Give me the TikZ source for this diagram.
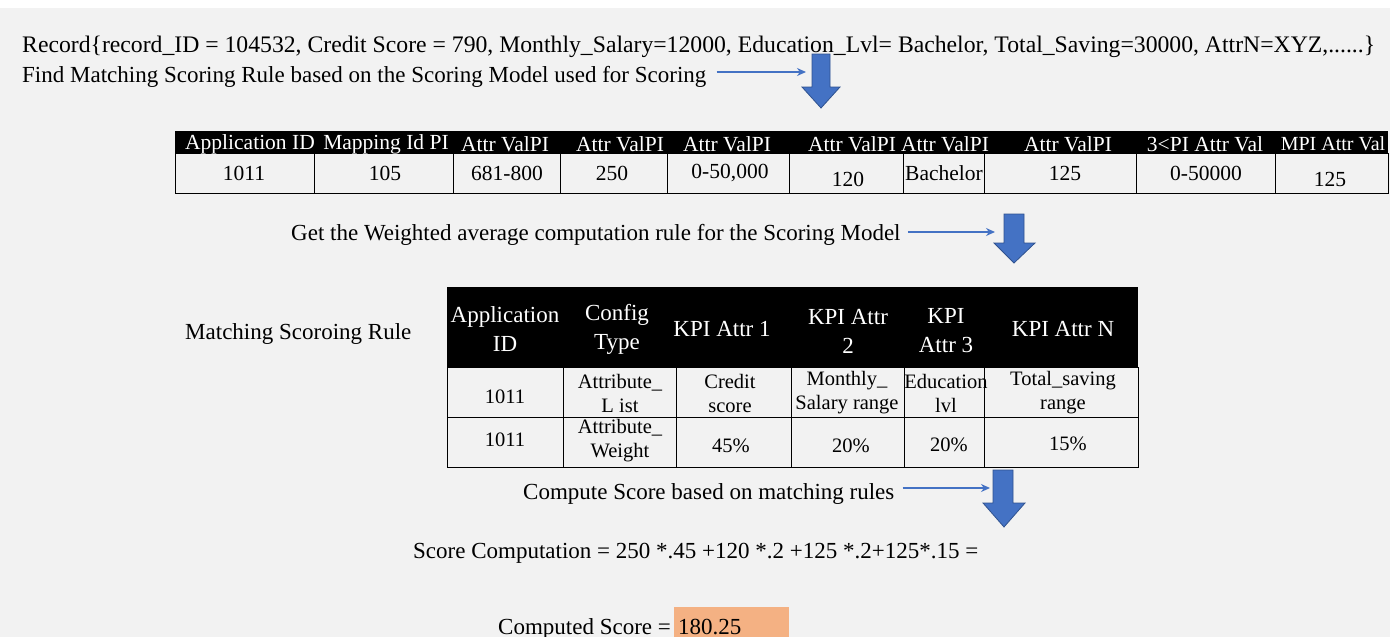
\documentclass[tikz,border=0pt]{standalone}
\usepackage{fontspec}
\setmainfont{Liberation Serif}
\usetikzlibrary{arrows.meta}
\definecolor{bggray}{HTML}{F2F2F2}
\definecolor{arrowblue}{HTML}{4472C4}
\definecolor{arrowedge}{HTML}{2F528F}
\definecolor{scoreorange}{HTML}{F4B183}
\begin{document}
\begin{tikzpicture}[x=1pt,y=-1pt]
\tikzstyle{every node}+=[inner sep=0pt]
\tikzstyle{txt}=[font=\fontsize{23}{26}\selectfont, anchor=base west]
\tikzstyle{hd}=[font=\fontsize{21.5}{23}\selectfont, text=white, align=center]
\tikzstyle{cell}=[font=\fontsize{21.5}{23}\selectfont, align=center]
\tikzstyle{khd}=[font=\fontsize{23}{29}\selectfont, text=white, align=center]
\tikzstyle{kcell}=[font=\fontsize{20.5}{24}\selectfont, align=center]
\tikzstyle{thin}=[draw=arrowblue, line width=1.5pt, -{Stealth[length=9pt,width=8pt]}]
\tikzstyle{bigarrow}=[fill=arrowblue, draw=arrowedge, line width=0.8pt]
\useasboundingbox (0,0) rectangle (1390,637);
\fill [bggray] (0,8) rectangle (1390,637);
\node [txt, font=\fontsize{23.7}{26}\selectfont] (rec) at (22,52) {Record\{record\_ID = 104532, Credit Score = 790, Monthly\_Salary=12000, Education\_Lvl= Bachelor, Total\_Saving=30000, AttrN=XYZ,......\}};
\node [txt] (find) at (22,82) {Find Matching Scoring Rule based on the Scoring Model used for Scoring};
\coordinate (a1) at (806,72);
\draw [thin] ([xshift=10pt]find.east |- a1) -- (a1);
\fill [bigarrow] (812,54) -- (830,54) -- (830,87) -- (840,87) -- (821,108) -- (802,87) -- (812,87) -- cycle;
\fill [black] (175,131) rectangle (1388,153);
\draw [black, line width=1pt] (175,153) rectangle (1388,193);
\foreach \x in {314,453,560,667,789,903,984,1136,1275}
  \draw [black, line width=1pt] (\x,153) -- (\x,193);
\node [hd] (h1) at (250,144) {Application ID};
\node [hd] (h2) at (386,144) {Mapping Id PI};
\node [hd] (h3) at (505,144) {Attr ValPI};
\node [hd] (h4) at (620,144) {Attr ValPI};
\node [hd] (h5) at (727,144) {Attr ValPI};
\node [hd] (h6) at (852,144) {Attr ValPI};
\node [hd] (h7) at (945,144) {Attr ValPI};
\node [hd] (h8) at (1068,144) {Attr ValPI};
\node [hd] (h9) at (1205,144) {3<PI Attr Val};
\node [hd, font=\fontsize{20}{22}\selectfont] (h10) at (1333,144) {MPI Attr Val};
\node [cell] (c1) at (244,173) {1011};
\node [cell] (c2) at (385,173) {105};
\node [cell] (c3) at (507,173) {681-800};
\node [cell] (c4) at (612,173) {250};
\node [cell] (c5) at (730,173) {0-50,000};
\node [cell] (c6) at (848,179) {120};
\node [cell] (c7) at (944,173) {Bachelor};
\node [cell] (c8) at (1065,173) {125};
\node [cell] (c9) at (1206,173) {0-50000};
\node [cell] (c10) at (1330,179) {125};
\node [txt] (get) at (291,240) {Get the Weighted average computation rule for the Scoring Model};
\coordinate (a2) at (995,232);
\draw [thin] ([xshift=7pt]get.east |- a2) -- (a2);
\fill [bigarrow] (1004,214) -- (1024,214) -- (1024,243) -- (1035,243) -- (1014,263) -- (994,243) -- (1004,243) -- cycle;
\node [txt] (match) at (185,339) {Matching Scoroing Rule};
\fill [black] (447,287) rectangle (1138,367);
\draw [black, line width=1pt] (447,367) rectangle (1138,467);
\draw [black, line width=1pt] (447,417) -- (1138,417);
\foreach \x in {563,676,791,904,984}
  \draw [black, line width=1pt] (\x,367) -- (\x,467);
\node [khd] (k1) at (505,329) {Application\\ID};
\node [khd] (k2) at (617,329) {Config\\Type};
\node [khd] (k3) at (722,329) {KPI Attr 1};
\node [khd] (k4) at (848,331) {KPI Attr\\2};
\node [khd] (k5) at (946,331) {KPI\\Attr 3};
\node [khd] (k6) at (1063,329) {KPI Attr N};
\node [kcell] (ra1) at (505,397) {1011};
\node [kcell] (ra2) at (620,393) {Attribute\_\\L ist};
\node [kcell] (ra3) at (730,393) {Credit\\score};
\node [kcell] (ra4) at (847,393) {Monthly\_\\Salary range};
\node [kcell] (ra5) at (946,393) {Education\\lvl};
\node [kcell] (ra6) at (1063,393) {Total\_saving\\range};
\node [kcell] (rb1) at (505,440) {1011};
\node [kcell] (rb2) at (620,441) {Attribute\_\\Weight};
\node [kcell] (rb3) at (731,446) {45\%};
\node [kcell] (rb4) at (851,446) {20\%};
\node [kcell] (rb5) at (949,445) {20\%};
\node [kcell] (rb6) at (1068,444) {15\%};
\node [txt] (compute) at (523,499) {Compute Score based on matching rules};
\coordinate (a3) at (990,488);
\draw [thin] ([xshift=8pt]compute.east |- a3) -- (a3);
\fill [bigarrow] (993,470) -- (1013,470) -- (1013,503) -- (1025,503) -- (1004,527) -- (983,503) -- (993,503) -- cycle;
\node [txt] (scomp) at (413,558) {Score Computation = 250 *.45 +120 *.2 +125 *.2+125*.15 =};
\node [txt] (cscore) at (498,634) {Computed Score =};
\fill [scoreorange] (674,607) rectangle (789,640);
\node [txt] (val) at (678,634) {180.25};
\end{tikzpicture}
\end{document}
